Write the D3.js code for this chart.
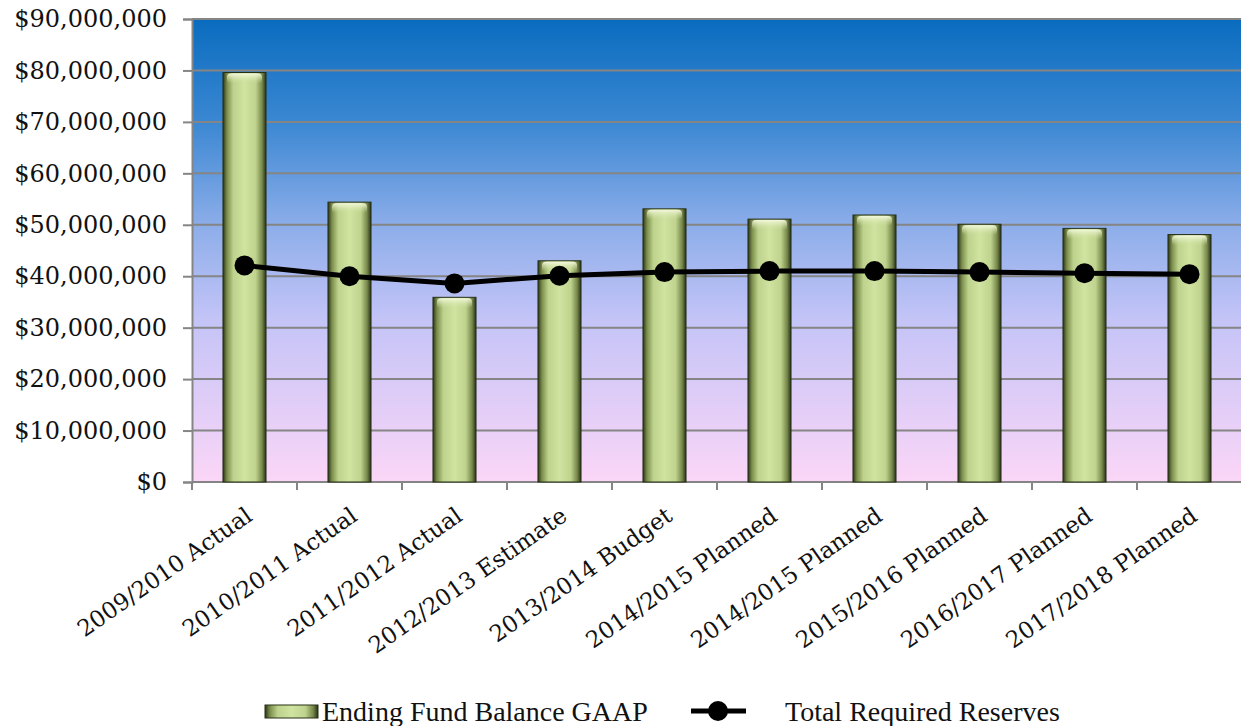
<!DOCTYPE html>
<html>
<head>
<meta charset="utf-8">
<script src="https://cdn.jsdelivr.net/npm/d3@7"></script>
<style>
  body { margin: 0; background: #fff; }
  svg { display: block; }
</style>
</head>
<body>
<div id="chart"></div>
<script>
const categories = [
  "2009/2010 Actual", "2010/2011 Actual", "2011/2012 Actual", "2012/2013 Estimate",
  "2013/2014 Budget", "2014/2015 Planned", "2014/2015 Planned", "2015/2016 Planned",
  "2016/2017 Planned", "2017/2018 Planned"
];
const fundBalance = [79600000, 54400000, 35900000, 43000000, 53100000, 51100000, 51900000, 50100000, 49300000, 48100000];
const requiredReserves = [42100000, 40000000, 38600000, 40100000, 40800000, 41000000, 41000000, 40800000, 40600000, 40400000];
const yTicks = [0, 10000000, 20000000, 30000000, 40000000, 50000000, 60000000, 70000000, 80000000, 90000000];
const seriesNames = ["Ending Fund Balance GAAP", "Total Required Reserves"];

const width = 1241;
const height = 726;
const marginTop = 19;
const marginRight = -1;
const marginBottom = 244;
const marginLeft = 192;
const font = "'DejaVu Serif', Georgia, serif";

const svg = d3.select("#chart").append("svg")
  .attr("width", width)
  .attr("height", height)
  .attr("viewBox", [0, 0, width, height]);

const x = d3.scaleBand()
  .domain(d3.range(categories.length))
  .range([marginLeft, width - marginRight])
  .paddingInner(0.59)
  .paddingOuter(0.295);

const xEdge = d3.scaleBand()
  .domain(d3.range(categories.length))
  .range([marginLeft, width - marginRight]);

const y = d3.scaleLinear()
  .domain([0, 90000000])
  .range([height - marginBottom, marginTop]);

const defs = svg.append("defs");

// plot background
const bg = defs.append("linearGradient").attr("id", "bg")
  .attr("x1", 0).attr("y1", 0).attr("x2", 0).attr("y2", 1);
bg.append("stop").attr("offset", "0%").attr("stop-color", "#0a6cbf");
bg.append("stop").attr("offset", "22%").attr("stop-color", "#3a87d2");
bg.append("stop").attr("offset", "45%").attr("stop-color", "#8eaeea");
bg.append("stop").attr("offset", "65%").attr("stop-color", "#c4c4f7");
bg.append("stop").attr("offset", "100%").attr("stop-color", "#fbd6f7");

// bar body
const barGrad = defs.append("linearGradient").attr("id", "barGrad")
  .attr("x1", 0).attr("y1", 0).attr("x2", 1).attr("y2", 0);
[["0%", "#2a3319"], ["9%", "#7a8c4a"], ["24%", "#bdd28c"], ["50%", "#d0e3a0"],
 ["76%", "#bfd38e"], ["91%", "#76874a"], ["100%", "#263017"]]
  .forEach(([o, c]) => barGrad.append("stop").attr("offset", o).attr("stop-color", c));

const capGrad = defs.append("linearGradient").attr("id", "capGrad")
  .attr("x1", 0).attr("y1", 0).attr("x2", 0).attr("y2", 1);
capGrad.append("stop").attr("offset", "0%").attr("stop-color", "#f6f9e0").attr("stop-opacity", 0.95);
capGrad.append("stop").attr("offset", "100%").attr("stop-color", "#d0e3a0").attr("stop-opacity", 0);

const plotW = width - marginRight - marginLeft;
const plotH = height - marginBottom - marginTop;

svg.append("rect")
  .attr("x", marginLeft).attr("y", marginTop)
  .attr("width", plotW).attr("height", plotH)
  .attr("fill", "url(#bg)");

// gridlines
svg.append("g")
  .selectAll("line")
  .data(yTicks.filter(d => d > 0))
  .join("line")
  .attr("x1", marginLeft).attr("x2", width)
  .attr("y1", d => y(d)).attr("y2", d => y(d))
  .attr("stroke", "#858585")
  .attr("stroke-width", 2);

// y axis
svg.append("g")
  .attr("transform", `translate(${marginLeft},0)`)
  .call(d3.axisLeft(y).tickValues(yTicks).tickSize(9).tickPadding(16)
    .tickFormat(d => "$" + d3.format(",")(d)))
  .call(g => g.select(".domain").attr("stroke", "#858585").attr("stroke-width", 2))
  .call(g => g.selectAll(".tick line").attr("stroke", "#858585").attr("stroke-width", 2))
  .call(g => g.selectAll(".tick text")
    .attr("font-family", font)
    .attr("font-size", 24)
    .attr("fill", "#111"));

// x axis
const xAxis = svg.append("g")
  .attr("transform", `translate(0,${y(0)})`);
xAxis.append("line")
  .attr("x1", marginLeft).attr("x2", width)
  .attr("stroke", "#858585").attr("stroke-width", 2);
xAxis.selectAll("line.tick")
  .data(d3.range(categories.length))
  .join("line")
  .attr("class", "tick")
  .attr("x1", d => xEdge(d)).attr("x2", d => xEdge(d))
  .attr("y1", 0).attr("y2", 8)
  .attr("stroke", "#858585").attr("stroke-width", 2);
xAxis.selectAll("text")
  .data(categories)
  .join("text")
  .attr("transform", (d, i) => `translate(${x(i) + x.bandwidth() / 2},24) rotate(-35)`)
  .attr("text-anchor", "end")
  .attr("dy", "0.7em")
  .attr("font-family", font)
  .attr("font-size", 23)
  .attr("fill", "#111")
  .text(d => d);

// bars
const bars = svg.append("g");
bars.selectAll("rect.bar")
  .data(fundBalance)
  .join("rect")
  .attr("class", "bar")
  .attr("x", (d, i) => x(i))
  .attr("y", d => y(d))
  .attr("width", x.bandwidth())
  .attr("height", d => y(0) - y(d))
  .attr("fill", "url(#barGrad)")
  .attr("stroke", "#263017")
  .attr("stroke-width", 1);
bars.selectAll("rect.cap")
  .data(fundBalance)
  .join("rect")
  .attr("class", "cap")
  .attr("x", (d, i) => x(i) + 4)
  .attr("y", d => y(d) + 1)
  .attr("width", x.bandwidth() - 8)
  .attr("height", 10)
  .attr("rx", 4)
  .attr("fill", "url(#capGrad)");

// line
const line = d3.line()
  .x((d, i) => x(i) + x.bandwidth() / 2)
  .y(d => y(d));

svg.append("path")
  .datum(requiredReserves)
  .attr("fill", "none")
  .attr("stroke", "#000")
  .attr("stroke-width", 5)
  .attr("stroke-linejoin", "round")
  .attr("d", line);

svg.append("g")
  .selectAll("circle")
  .data(requiredReserves)
  .join("circle")
  .attr("cx", (d, i) => x(i) + x.bandwidth() / 2)
  .attr("cy", d => y(d))
  .attr("r", 10)
  .attr("fill", "#000");

// legend
const legend = svg.append("g").attr("transform", "translate(0,711)");
legend.append("rect")
  .attr("x", 265).attr("y", -6)
  .attr("width", 53).attr("height", 13)
  .attr("fill", "url(#barGrad)")
  .attr("stroke", "#263017");
legend.append("text")
  .attr("x", 322).attr("y", 0)
  .attr("dy", "0.35em")
  .attr("font-family", "'Liberation Serif', serif")
  .attr("font-size", 28)
  .attr("fill", "#111")
  .text(seriesNames[0]);
legend.append("line")
  .attr("x1", 691).attr("x2", 746)
  .attr("stroke", "#000").attr("stroke-width", 5);
legend.append("circle")
  .attr("cx", 718).attr("cy", 0).attr("r", 10).attr("fill", "#000");
legend.append("text")
  .attr("x", 785).attr("y", 0)
  .attr("dy", "0.35em")
  .attr("font-family", "'Liberation Serif', serif")
  .attr("font-size", 28)
  .attr("fill", "#111")
  .text(seriesNames[1]);
</script>
</body>
</html>
